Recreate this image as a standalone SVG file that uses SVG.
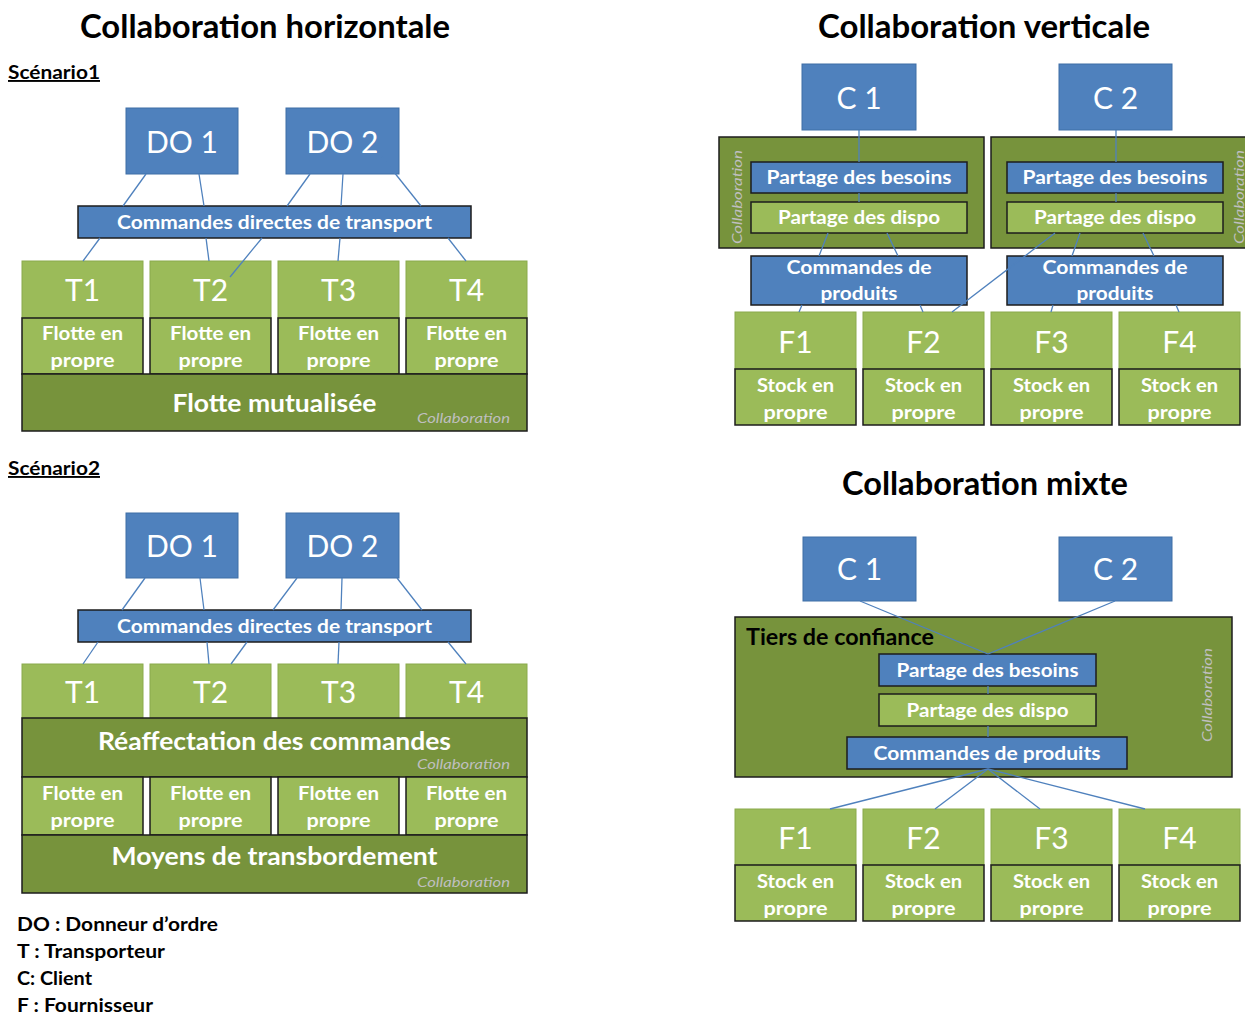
<svg xmlns="http://www.w3.org/2000/svg" width="1245" height="1014" viewBox="0 0 1245 1014">
<style>
text{font-family:Lato,"Open Sans","Liberation Sans",sans-serif}
.blue{fill:#4F81BD;stroke:#3F6EA6;stroke-width:1}
.bar{fill:#4F81BD;stroke:#1c1c1c;stroke-width:1.5}
.lg{fill:#9BBB59;stroke:#8AAA4C;stroke-width:1}
.lgd{fill:#9BBB59;stroke:#1c1c1c;stroke-width:1.5}
.dg{fill:#77933C;stroke:#1c1c1c;stroke-width:1.5}
.conn line{stroke:#4F81BD;stroke-width:1.3;fill:none}
.big{font-size:30px;fill:#fff;text-anchor:middle}
.wb{font-size:19px;font-weight:bold;fill:#fff;text-anchor:middle}
.wl{font-size:24px;font-weight:bold;fill:#fff;text-anchor:middle}
.ttl{font-size:32px;font-weight:bold;fill:#000;text-anchor:middle}
.sc{font-size:19px;font-weight:bold;fill:#000;text-decoration:underline}
.col{font-size:14px;font-style:italic;fill:#BFBFBF;text-anchor:end}
.colr{font-size:14px;font-style:italic;fill:#BFBFBF;text-anchor:middle}
.leg{font-size:19px;font-weight:bold;fill:#000}
</style>

<!-- Titles -->
<text class="ttl" x="265" y="38" textLength="370" lengthAdjust="spacingAndGlyphs">Collaboration horizontale</text>
<text class="ttl" x="984" y="38" textLength="332" lengthAdjust="spacingAndGlyphs">Collaboration verticale</text>
<text class="ttl" x="985" y="495" textLength="286" lengthAdjust="spacingAndGlyphs">Collaboration mixte</text>
<text class="sc" x="8" y="79" textLength="92" lengthAdjust="spacingAndGlyphs">Scénario1</text>
<text class="sc" x="8" y="475" textLength="92" lengthAdjust="spacingAndGlyphs">Scénario2</text>

<!-- ===== Scenario 1 ===== -->
<g id="s1-do1"><rect class="blue" x="126" y="108" width="112" height="66"/><text class="big" x="182" y="153">DO 1</text></g>
<g id="s1-do2"><rect class="blue" x="286" y="108" width="113" height="66"/><text class="big" x="342.5" y="153">DO 2</text></g>
<g id="s1-cmd"><rect class="bar" x="78" y="206" width="393" height="32"/><text class="wb" x="274.5" y="229" textLength="315" lengthAdjust="spacingAndGlyphs">Commandes directes de transport</text></g>
<g id="s1-t1"><rect class="lg" x="22" y="261" width="121" height="57"/><text class="big" x="82.5" y="301">T1</text>
<rect class="lgd" x="22" y="318" width="121" height="56"/><text class="wb" x="82.5" y="340" textLength="81" lengthAdjust="spacingAndGlyphs">Flotte en</text><text class="wb" x="82.5" y="367" textLength="64" lengthAdjust="spacingAndGlyphs">propre</text></g>
<g id="s1-t2"><rect class="lg" x="150" y="261" width="121" height="57"/><text class="big" x="210.5" y="301">T2</text>
<rect class="lgd" x="150" y="318" width="121" height="56"/><text class="wb" x="210.5" y="340" textLength="81" lengthAdjust="spacingAndGlyphs">Flotte en</text><text class="wb" x="210.5" y="367" textLength="64" lengthAdjust="spacingAndGlyphs">propre</text></g>
<g id="s1-t3"><rect class="lg" x="278" y="261" width="121" height="57"/><text class="big" x="338.5" y="301">T3</text>
<rect class="lgd" x="278" y="318" width="121" height="56"/><text class="wb" x="338.5" y="340" textLength="81" lengthAdjust="spacingAndGlyphs">Flotte en</text><text class="wb" x="338.5" y="367" textLength="64" lengthAdjust="spacingAndGlyphs">propre</text></g>
<g id="s1-t4"><rect class="lg" x="406" y="261" width="121" height="57"/><text class="big" x="466.5" y="301">T4</text>
<rect class="lgd" x="406" y="318" width="121" height="56"/><text class="wb" x="466.5" y="340" textLength="81" lengthAdjust="spacingAndGlyphs">Flotte en</text><text class="wb" x="466.5" y="367" textLength="64" lengthAdjust="spacingAndGlyphs">propre</text></g>
<g id="s1-mut"><rect class="dg" x="22" y="374" width="505" height="57"/><text class="wl" x="274.5" y="412" textLength="204" lengthAdjust="spacingAndGlyphs">Flotte mutualisée</text><text class="col" x="510" y="423" textLength="93" lengthAdjust="spacingAndGlyphs">Collaboration</text></g>

<!-- ===== Scenario 2 ===== -->
<g id="s2-do1"><rect class="blue" x="126" y="513" width="112" height="65"/><text class="big" x="182" y="557">DO 1</text></g>
<g id="s2-do2"><rect class="blue" x="286" y="513" width="113" height="65"/><text class="big" x="342.5" y="557">DO 2</text></g>
<g id="s2-cmd"><rect class="bar" x="78" y="610" width="393" height="32"/><text class="wb" x="274.5" y="633" textLength="315" lengthAdjust="spacingAndGlyphs">Commandes directes de transport</text></g>
<g id="s2-t1"><rect class="lg" x="22" y="664" width="121" height="54"/><text class="big" x="82.5" y="703">T1</text></g>
<g id="s2-t2"><rect class="lg" x="150" y="664" width="121" height="54"/><text class="big" x="210.5" y="703">T2</text></g>
<g id="s2-t3"><rect class="lg" x="278" y="664" width="121" height="54"/><text class="big" x="338.5" y="703">T3</text></g>
<g id="s2-t4"><rect class="lg" x="406" y="664" width="121" height="54"/><text class="big" x="466.5" y="703">T4</text></g>
<g id="s2-reaff"><rect class="dg" x="22" y="718" width="505" height="59"/><text class="wl" x="274.5" y="750" textLength="353" lengthAdjust="spacingAndGlyphs">Réaffectation des commandes</text><text class="col" x="510" y="769" textLength="93" lengthAdjust="spacingAndGlyphs">Collaboration</text></g>
<g id="s2-f1"><rect class="lgd" x="22" y="777" width="121" height="58"/><text class="wb" x="82.5" y="800" textLength="81" lengthAdjust="spacingAndGlyphs">Flotte en</text><text class="wb" x="82.5" y="827" textLength="64" lengthAdjust="spacingAndGlyphs">propre</text></g>
<g id="s2-f2"><rect class="lgd" x="150" y="777" width="121" height="58"/><text class="wb" x="210.5" y="800" textLength="81" lengthAdjust="spacingAndGlyphs">Flotte en</text><text class="wb" x="210.5" y="827" textLength="64" lengthAdjust="spacingAndGlyphs">propre</text></g>
<g id="s2-f3"><rect class="lgd" x="278" y="777" width="121" height="58"/><text class="wb" x="338.5" y="800" textLength="81" lengthAdjust="spacingAndGlyphs">Flotte en</text><text class="wb" x="338.5" y="827" textLength="64" lengthAdjust="spacingAndGlyphs">propre</text></g>
<g id="s2-f4"><rect class="lgd" x="406" y="777" width="121" height="58"/><text class="wb" x="466.5" y="800" textLength="81" lengthAdjust="spacingAndGlyphs">Flotte en</text><text class="wb" x="466.5" y="827" textLength="64" lengthAdjust="spacingAndGlyphs">propre</text></g>
<g id="s2-moy"><rect class="dg" x="22" y="835" width="505" height="58"/><text class="wl" x="274.5" y="865" textLength="326" lengthAdjust="spacingAndGlyphs">Moyens de transbordement</text><text class="col" x="510" y="887" textLength="93" lengthAdjust="spacingAndGlyphs">Collaboration</text></g>

<!-- Legend -->
<g id="legend">
<text class="leg" x="17" y="931" textLength="201" lengthAdjust="spacingAndGlyphs">DO : Donneur d’ordre</text>
<text class="leg" x="17" y="958" textLength="148" lengthAdjust="spacingAndGlyphs">T : Transporteur</text>
<text class="leg" x="17" y="985" textLength="75" lengthAdjust="spacingAndGlyphs">C: Client</text>
<text class="leg" x="17" y="1012" textLength="136" lengthAdjust="spacingAndGlyphs">F : Fournisseur</text>
</g>

<!-- ===== Vertical ===== -->
<g id="v-c1"><rect class="blue" x="802" y="64" width="114" height="66"/><text class="big" x="859" y="109">C 1</text></g>
<g id="v-c2"><rect class="blue" x="1059" y="64" width="113" height="66"/><text class="big" x="1115.5" y="109">C 2</text></g>
<g id="v-collab1"><rect class="dg" x="719" y="137" width="265" height="111"/><text class="colr" transform="translate(742,197) rotate(-90)" textLength="94" lengthAdjust="spacingAndGlyphs">Collaboration</text></g>
<g id="v-collab2"><rect class="dg" x="991" y="137" width="262" height="111"/><text class="colr" transform="translate(1244,197) rotate(-90)" textLength="94" lengthAdjust="spacingAndGlyphs">Collaboration</text></g>
<g id="v-bes1"><rect class="bar" x="751" y="162" width="216" height="31"/><text class="wb" x="859" y="184" textLength="185" lengthAdjust="spacingAndGlyphs">Partage des besoins</text></g>
<g id="v-dis1"><rect class="lgd" x="751" y="202" width="216" height="31"/><text class="wb" x="859" y="224" textLength="162" lengthAdjust="spacingAndGlyphs">Partage des dispo</text></g>
<g id="v-bes2"><rect class="bar" x="1007" y="162" width="216" height="31"/><text class="wb" x="1115" y="184" textLength="185" lengthAdjust="spacingAndGlyphs">Partage des besoins</text></g>
<g id="v-dis2"><rect class="lgd" x="1007" y="202" width="216" height="31"/><text class="wb" x="1115" y="224" textLength="162" lengthAdjust="spacingAndGlyphs">Partage des dispo</text></g>
<g id="v-cmd1"><rect class="bar" x="751" y="256" width="216" height="49"/><text class="wb" x="859" y="274" textLength="145" lengthAdjust="spacingAndGlyphs">Commandes de</text><text class="wb" x="859" y="300" textLength="77" lengthAdjust="spacingAndGlyphs">produits</text></g>
<g id="v-cmd2"><rect class="bar" x="1007" y="256" width="216" height="49"/><text class="wb" x="1115" y="274" textLength="145" lengthAdjust="spacingAndGlyphs">Commandes de</text><text class="wb" x="1115" y="300" textLength="77" lengthAdjust="spacingAndGlyphs">produits</text></g>
<g id="v-f1"><rect class="lg" x="735" y="312" width="121" height="57"/><text class="big" x="795.5" y="353">F1</text>
<rect class="lgd" x="735" y="369" width="121" height="56"/><text class="wb" x="795.5" y="392" textLength="77" lengthAdjust="spacingAndGlyphs">Stock en</text><text class="wb" x="795.5" y="419" textLength="64" lengthAdjust="spacingAndGlyphs">propre</text></g>
<g id="v-f2"><rect class="lg" x="863" y="312" width="121" height="57"/><text class="big" x="923.5" y="353">F2</text>
<rect class="lgd" x="863" y="369" width="121" height="56"/><text class="wb" x="923.5" y="392" textLength="77" lengthAdjust="spacingAndGlyphs">Stock en</text><text class="wb" x="923.5" y="419" textLength="64" lengthAdjust="spacingAndGlyphs">propre</text></g>
<g id="v-f3"><rect class="lg" x="991" y="312" width="121" height="57"/><text class="big" x="1051.5" y="353">F3</text>
<rect class="lgd" x="991" y="369" width="121" height="56"/><text class="wb" x="1051.5" y="392" textLength="77" lengthAdjust="spacingAndGlyphs">Stock en</text><text class="wb" x="1051.5" y="419" textLength="64" lengthAdjust="spacingAndGlyphs">propre</text></g>
<g id="v-f4"><rect class="lg" x="1119" y="312" width="121" height="57"/><text class="big" x="1179.5" y="353">F4</text>
<rect class="lgd" x="1119" y="369" width="121" height="56"/><text class="wb" x="1179.5" y="392" textLength="77" lengthAdjust="spacingAndGlyphs">Stock en</text><text class="wb" x="1179.5" y="419" textLength="64" lengthAdjust="spacingAndGlyphs">propre</text></g>

<!-- ===== Mixte ===== -->
<g id="m-c1"><rect class="blue" x="803" y="537" width="113" height="64"/><text class="big" x="859.5" y="580">C 1</text></g>
<g id="m-c2"><rect class="blue" x="1059" y="537" width="113" height="64"/><text class="big" x="1115.5" y="580">C 2</text></g>
<g id="m-tiers"><rect class="dg" x="735" y="617" width="497" height="160"/>
<text x="746" y="645" style="font-size:22px;font-weight:bold;fill:#000" textLength="188" lengthAdjust="spacingAndGlyphs">Tiers de confiance</text>
<text class="colr" transform="translate(1212,695) rotate(-90)" textLength="94" lengthAdjust="spacingAndGlyphs">Collaboration</text></g>
<g id="m-bes"><rect class="bar" x="879" y="654" width="217" height="32"/><text class="wb" x="987.5" y="677" textLength="182" lengthAdjust="spacingAndGlyphs">Partage des besoins</text></g>
<g id="m-dis"><rect class="lgd" x="879" y="694" width="217" height="32"/><text class="wb" x="987.5" y="717" textLength="162" lengthAdjust="spacingAndGlyphs">Partage des dispo</text></g>
<g id="m-cmd"><rect class="bar" x="847" y="737" width="280" height="32"/><text class="wb" x="987" y="760" textLength="227" lengthAdjust="spacingAndGlyphs">Commandes de produits</text></g>
<g id="m-f1"><rect class="lg" x="735" y="809" width="121" height="56"/><text class="big" x="795.5" y="849">F1</text>
<rect class="lgd" x="735" y="865" width="121" height="56"/><text class="wb" x="795.5" y="888" textLength="77" lengthAdjust="spacingAndGlyphs">Stock en</text><text class="wb" x="795.5" y="915" textLength="64" lengthAdjust="spacingAndGlyphs">propre</text></g>
<g id="m-f2"><rect class="lg" x="863" y="809" width="121" height="56"/><text class="big" x="923.5" y="849">F2</text>
<rect class="lgd" x="863" y="865" width="121" height="56"/><text class="wb" x="923.5" y="888" textLength="77" lengthAdjust="spacingAndGlyphs">Stock en</text><text class="wb" x="923.5" y="915" textLength="64" lengthAdjust="spacingAndGlyphs">propre</text></g>
<g id="m-f3"><rect class="lg" x="991" y="809" width="121" height="56"/><text class="big" x="1051.5" y="849">F3</text>
<rect class="lgd" x="991" y="865" width="121" height="56"/><text class="wb" x="1051.5" y="888" textLength="77" lengthAdjust="spacingAndGlyphs">Stock en</text><text class="wb" x="1051.5" y="915" textLength="64" lengthAdjust="spacingAndGlyphs">propre</text></g>
<g id="m-f4"><rect class="lg" x="1119" y="809" width="121" height="56"/><text class="big" x="1179.5" y="849">F4</text>
<rect class="lgd" x="1119" y="865" width="121" height="56"/><text class="wb" x="1179.5" y="888" textLength="77" lengthAdjust="spacingAndGlyphs">Stock en</text><text class="wb" x="1179.5" y="915" textLength="64" lengthAdjust="spacingAndGlyphs">propre</text></g>

<!-- ===== Connectors ===== -->
<g id="connectors" class="conn">
<line x1="146" y1="174" x2="123" y2="206"/>
<line x1="199" y1="174" x2="204" y2="206"/>
<line x1="310" y1="174" x2="287" y2="206"/>
<line x1="343" y1="174" x2="341" y2="206"/>
<line x1="382" y1="157" x2="421" y2="206"/>
<line x1="100" y1="238" x2="83" y2="261"/>
<line x1="206" y1="238" x2="209" y2="261"/>
<line x1="262" y1="238" x2="230" y2="277"/>
<line x1="340" y1="238" x2="338" y2="261"/>
<line x1="448" y1="238" x2="466" y2="261"/>

<line x1="145" y1="578" x2="122" y2="610"/>
<line x1="200" y1="578" x2="204" y2="610"/>
<line x1="297" y1="578" x2="273" y2="610"/>
<line x1="342" y1="578" x2="341" y2="610"/>
<line x1="397" y1="578" x2="422" y2="610"/>
<line x1="98" y1="642" x2="83" y2="664"/>
<line x1="207" y1="642" x2="209" y2="664"/>
<line x1="247" y1="642" x2="231" y2="664"/>
<line x1="339" y1="642" x2="338" y2="664"/>
<line x1="448" y1="642" x2="466" y2="664"/>

<line x1="859" y1="130" x2="859" y2="162"/>
<line x1="859" y1="193" x2="859" y2="202"/>
<line x1="1116" y1="130" x2="1116" y2="162"/>
<line x1="1116" y1="193" x2="1116" y2="202"/>
<line x1="828" y1="233" x2="819" y2="256"/>
<line x1="887" y1="233" x2="898" y2="256"/>
<line x1="1055" y1="233" x2="952" y2="312"/>
<line x1="1080" y1="233" x2="1072" y2="256"/>
<line x1="1143" y1="233" x2="1154" y2="256"/>
<line x1="802" y1="305" x2="799" y2="312"/>
<line x1="920" y1="305" x2="923" y2="312"/>
<line x1="1053" y1="305" x2="1051" y2="312"/>
<line x1="1176" y1="305" x2="1179" y2="312"/>

<line x1="860" y1="601" x2="988" y2="654"/>
<line x1="1115" y1="601" x2="988" y2="654"/>
<line x1="988" y1="686" x2="988" y2="694"/>
<line x1="988" y1="726" x2="988" y2="737"/>
<line x1="988" y1="769" x2="830" y2="809"/>
<line x1="988" y1="769" x2="935" y2="809"/>
<line x1="988" y1="769" x2="1040" y2="809"/>
<line x1="988" y1="769" x2="1145" y2="809"/>
</g>
</svg>
